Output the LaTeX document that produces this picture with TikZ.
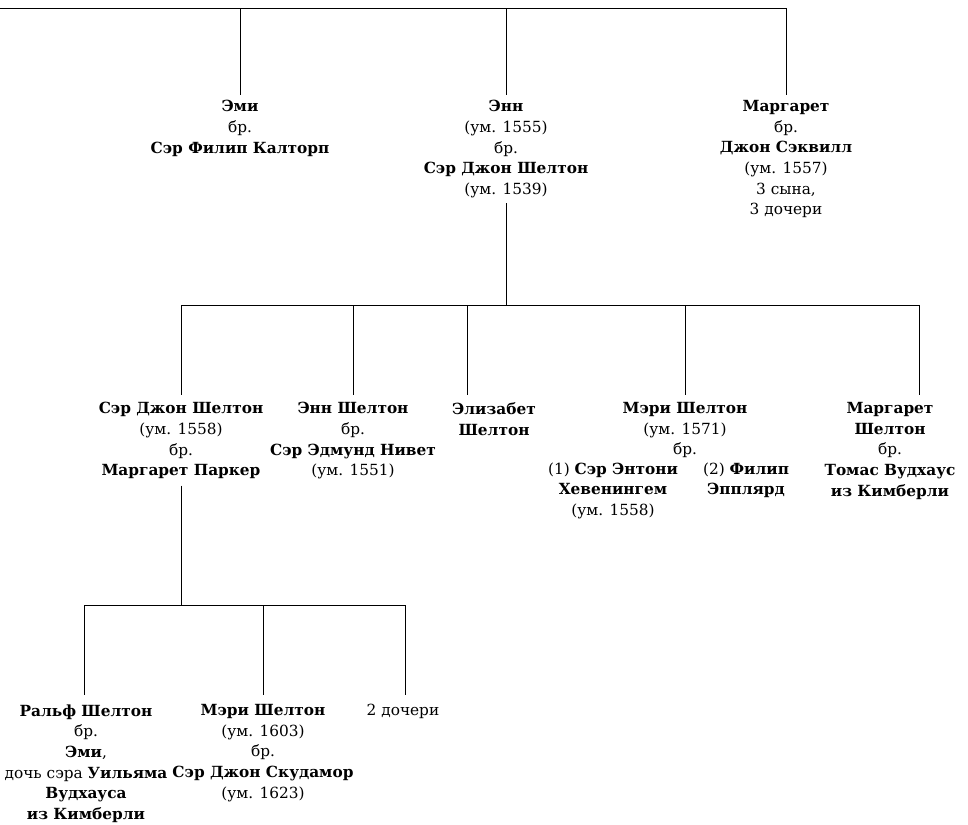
\documentclass[tikz,border=0pt]{standalone}
\usepackage{fontspec}
\setmainfont{DejaVu Serif}
\usetikzlibrary{positioning}

\tikzset{
  person/.style={anchor=north, align=center, inner sep=0pt,
    font=\fontsize{11.5}{15.5}\selectfont},
  line/.style={line width=0.7pt}
}

\begin{document}
\begin{tikzpicture}[x=0.75pt, y=-0.75pt, line]
    \useasboundingbox (0,0) rectangle (968,825);

    % First generation
    \node[person] (emi) at (240,100) {\textbf{Эми}\\бр.\\\textbf{Сэр Филип Калторп}};
    \node[person] (ann) at (506,100) {\textbf{Энн}\\(ум. 1555)\\бр.\\\textbf{Сэр Джон Шелтон}\\(ум. 1539)};
    \node[person] (marg) at (786,100) {\textbf{Маргарет}\\бр.\\\textbf{Джон Сэквилл}\\(ум. 1557)\\3 сына,\\3 дочери};

    \coordinate (barA) at (0,8);
    \coordinate (barB) at (786,8);
    \draw (barA) -- (barB);
    \draw (emi.north |- barA) -- ++(0,87);
    \draw (ann.north |- barA) -- ++(0,87);
    \draw (marg.north |- barA) -- ++(0,87);

    % Second generation
    \node[person] (johnS) at (181,402) {\textbf{Сэр Джон Шелтон}\\(ум. 1558)\\бр.\\\textbf{Маргарет Паркер}};
    \node[person] (annS) at (353,402) {\textbf{Энн Шелтон}\\бр.\\\textbf{Сэр Эдмунд Нивет}\\(ум. 1551)};
    \node[person] (eliz) at (494,402) {\textbf{Элизабет}\\\textbf{Шелтон}};
    \node[person] (mary) at (685,402) {\textbf{Мэри Шелтон}\\(ум. 1571)\\бр.};
    \node[person] (husA) at (613,462) {(1) \textbf{Сэр Энтони}\\\textbf{Хевенингем}\\(ум. 1558)};
    \node[person] (husB) at (746,462) {(2) \textbf{Филип}\\\textbf{Эпплярд}};
    \node[person] (margS) at (890,402) {\textbf{Маргарет}\\\textbf{Шелтон}\\бр.\\\textbf{Томас Вудхаус}\\\textbf{из Кимберли}};

    \coordinate (barC) at (181,305);
    \coordinate (barD) at (919,305);
    \coordinate (dropE) at (467,395);
    \coordinate (dropM) at (919,395);
    \draw (ann.south) ++(0,5) -- (ann.south |- barC);
    \draw (barC) -- (barD);
    \draw (johnS.north |- barC) -- ++(0,90);
    \draw (annS.north |- barC) -- ++(0,90);
    \draw (dropE |- barC) -- (dropE);
    \draw (mary.north |- barC) -- ++(0,90);
    \draw (dropM |- barC) -- (dropM);

    % Third generation
    \node[person] (ralph) at (86,704) {\textbf{Ральф Шелтон}\\бр.\\\textbf{Эми},\\дочь сэра \textbf{Уильяма}\\\textbf{Вудхауса}\\\textbf{из Кимберли}};
    \node[person] (maryS) at (263,704) {\textbf{Мэри Шелтон}\\(ум. 1603)\\бр.\\\textbf{Сэр Джон Скудамор}\\(ум. 1623)};
    \node[person] (daus) at (403,704) {2 дочери};

    \coordinate (barE) at (84,605);
    \coordinate (barF) at (405,605);
    \draw (johnS.south) ++(0,6) -- (johnS.south |- barE);
    \draw (barE) -- (barF);
    \draw (barE) -- ++(0,90);
    \draw (maryS.north |- barE) -- ++(0,90);
    \draw (barF) -- ++(0,90);

\end{tikzpicture}
\end{document}
